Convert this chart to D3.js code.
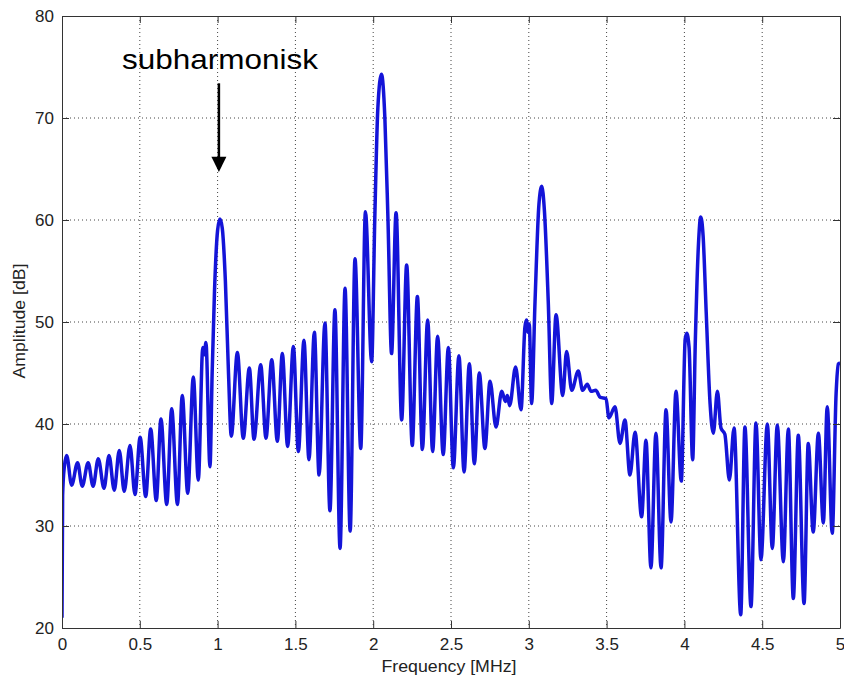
<!DOCTYPE html>
<html>
<head>
<meta charset="utf-8">
<script src="https://cdn.jsdelivr.net/npm/d3@7"></script>
<style>
  body { margin: 0; background: #fff; }
  text { font-family: Arial, "Liberation Sans", sans-serif; }
</style>
</head>
<body>
<div id="chart"></div>
<script>
// spectrum: peaks and troughs of every lobe
var freq = [
  0.000, 0.004, 0.015, 0.030, 0.062, 0.100, 0.130, 0.168, 0.200, 0.233,
  0.270, 0.302, 0.336, 0.368, 0.400, 0.437, 0.469, 0.502, 0.538, 0.570,
  0.606, 0.636, 0.673, 0.705, 0.742, 0.773, 0.808, 0.844, 0.876, 0.905,
  0.915, 0.925, 0.951, 0.965, 0.980, 1.000, 1.015, 1.030, 1.050, 1.070,
  1.088, 1.127, 1.165, 1.204, 1.234, 1.277, 1.311, 1.348, 1.384, 1.416,
  1.450, 1.487, 1.519, 1.555, 1.587, 1.622, 1.652, 1.690, 1.722, 1.754,
  1.787, 1.819, 1.852, 1.883, 1.920, 1.950, 1.990, 2.010, 2.030, 2.053,
  2.075, 2.095, 2.118, 2.147, 2.183, 2.215, 2.251, 2.284, 2.316, 2.350,
  2.382, 2.414, 2.450, 2.483, 2.515, 2.551, 2.584, 2.618, 2.650, 2.682,
  2.718, 2.751, 2.789, 2.826, 2.850, 2.862, 2.877, 2.915, 2.950, 2.975,
  2.985, 2.995, 3.003, 3.018, 3.040, 3.065, 3.083, 3.100, 3.125, 3.147,
  3.175, 3.218, 3.243, 3.276, 3.318, 3.346, 3.376, 3.400, 3.430, 3.460,
  3.496, 3.515, 3.554, 3.586, 3.618, 3.650, 3.683, 3.725, 3.753, 3.785,
  3.817, 3.850, 3.882, 3.914, 3.946, 3.980, 4.005, 4.015, 4.030, 4.053,
  4.070, 4.090, 4.105, 4.120, 4.140, 4.165, 4.186, 4.212, 4.235, 4.260,
  4.289, 4.319, 4.362, 4.389, 4.428, 4.460, 4.492, 4.533, 4.565, 4.597,
  4.636, 4.668, 4.700, 4.732, 4.769, 4.796, 4.828, 4.861, 4.893, 4.918,
  4.950, 4.975, 4.990, 5.000
];
var amp = [
  21.0, 33.0, 35.8, 36.9, 34.0, 36.2, 33.9, 36.2, 33.9, 36.6,
  33.7, 36.9, 33.5, 37.4, 33.4, 37.9, 33.1, 38.7, 32.9, 39.5,
  32.5, 40.5, 32.1, 41.5, 32.1, 42.8, 33.2, 44.6, 34.5, 47.5,
  46.8, 48.0, 35.8, 45.0, 53.0, 59.0, 60.1, 59.2, 54.0, 45.0,
  38.8, 47.0, 38.6, 45.5, 38.5, 45.8, 38.6, 46.3, 38.3, 46.9,
  37.8, 47.6, 37.3, 48.2, 36.5, 49.0, 35.0, 49.9, 31.5, 51.2,
  27.8, 53.3, 29.5, 56.2, 37.6, 60.8, 46.1, 60.0, 71.0, 74.3,
  70.0, 60.0, 46.9, 60.7, 40.4, 55.6, 37.9, 52.5, 37.5, 50.2,
  37.3, 48.6, 37.0, 47.5, 35.7, 46.7, 35.3, 45.9, 36.1, 45.0,
  37.6, 44.2, 39.7, 43.2, 42.2, 42.8, 41.8, 45.6, 41.4, 49.5,
  50.2, 49.0, 49.8, 42.0, 52.0, 61.5, 63.3, 61.0, 52.0, 42.0,
  50.7, 42.8, 47.1, 43.3, 45.2, 43.3, 43.9, 43.2, 43.3, 42.6,
  42.5, 40.6, 41.7, 38.1, 40.4, 35.0, 39.2, 30.9, 38.4, 25.9,
  39.1, 25.9, 41.4, 30.4, 43.2, 34.4, 48.3, 48.9, 47.5, 36.5,
  48.0, 57.5, 60.3, 58.5, 51.0, 42.0, 39.1, 43.2, 39.6, 39.0,
  34.5, 39.6, 21.3, 39.7, 22.1, 40.1, 26.7, 40.0, 27.8, 39.9,
  26.5, 39.5, 22.9, 38.9, 22.4, 38.1, 29.4, 39.1, 30.3, 41.7,
  29.3, 43.0, 45.9, 46.0
];

var xTicks = [0, 0.5, 1, 1.5, 2, 2.5, 3, 3.5, 4, 4.5, 5];
var yTicks = [20, 30, 40, 50, 60, 70, 80];

var W = 844, H = 681;
var pLeft = 62, pRight = 840, pTop = 16, pBottom = 628;

var svg = d3.select("#chart").append("svg")
    .attr("width", W)
    .attr("height", H);

var x = d3.scaleLinear().domain([0, 5]).range([pLeft, pRight]);
var y = d3.scaleLinear().domain([20, 80]).range([pBottom, pTop]);

// dotted grid
svg.append("g").selectAll("line")
    .data(xTicks.slice(1, -1))
    .enter().append("line")
    .attr("x1", d => x(d)).attr("x2", d => x(d))
    .attr("y1", pTop).attr("y2", pBottom)
    .attr("stroke", "#444").attr("stroke-width", 1)
    .attr("stroke-dasharray", "1,3");

svg.append("g").selectAll("line")
    .data(yTicks.slice(1, -1))
    .enter().append("line")
    .attr("x1", pLeft).attr("x2", pRight)
    .attr("y1", d => y(d)).attr("y2", d => y(d))
    .attr("stroke", "#444").attr("stroke-width", 1)
    .attr("stroke-dasharray", "1,3");

// the curve
svg.append("clipPath").attr("id", "clip")
    .append("rect")
    .attr("x", pLeft).attr("y", pTop)
    .attr("width", pRight - pLeft).attr("height", pBottom - pTop);

var line = d3.line()
    .x(d => x(d[0]))
    .y(d => y(d[1]))
    .curve(d3.curveMonotoneX);

svg.append("path")
    .datum(freq.map((f, i) => [f, amp[i]]))
    .attr("clip-path", "url(#clip)")
    .attr("fill", "none")
    .attr("stroke", "#1414d8")
    .attr("stroke-width", 3.5)
    .attr("stroke-linejoin", "round")
    .attr("d", line);

// axes, matlab style: ticks inside, box all round
var xAxis = svg.append("g")
    .attr("transform", "translate(0," + pBottom + ")")
    .call(d3.axisBottom(x).tickValues(xTicks).tickSizeInner(-7).tickSizeOuter(0)
        .tickPadding(10).tickFormat(d3.format("")));
var yAxis = svg.append("g")
    .attr("transform", "translate(" + pLeft + ",0)")
    .call(d3.axisLeft(y).tickValues(yTicks).tickSizeInner(-7).tickSizeOuter(0)
        .tickPadding(8));
var xTop = svg.append("g")
    .attr("transform", "translate(0," + pTop + ")")
    .call(d3.axisTop(x).tickValues(xTicks).tickSizeInner(-7).tickSizeOuter(0)
        .tickFormat(""));
var yRight = svg.append("g")
    .attr("transform", "translate(" + pRight + ",0)")
    .call(d3.axisRight(y).tickValues(yTicks).tickSizeInner(-7).tickSizeOuter(0)
        .tickFormat(""));

[xAxis, yAxis, xTop, yRight].forEach(function (g) {
    g.select(".domain").attr("stroke", "#333");
    g.selectAll(".tick line").attr("stroke", "#333");
    g.selectAll("text")
        .attr("fill", "#222")
        .style("font-size", "17px")
        .style("font-family", "Arial, 'Liberation Sans', sans-serif");
});

// axis labels
svg.append("text")
    .attr("x", 449).attr("y", 672)
    .attr("text-anchor", "middle")
    .attr("textLength", 135)
    .attr("lengthAdjust", "spacingAndGlyphs")
    .style("font-size", "17px")
    .attr("fill", "#222")
    .text("Frequency [MHz]");

svg.append("text")
    .attr("transform", "translate(25," + 321 + ") rotate(-90)")
    .attr("text-anchor", "middle")
    .attr("textLength", 115)
    .attr("lengthAdjust", "spacingAndGlyphs")
    .style("font-size", "17px")
    .attr("fill", "#222")
    .text("Amplitude [dB]");

// annotation for the subharmonic
svg.append("text")
    .attr("x", 220).attr("y", 69)
    .attr("text-anchor", "middle")
    .attr("textLength", 196)
    .attr("lengthAdjust", "spacingAndGlyphs")
    .style("font-size", "28px")
    .attr("fill", "#000")
    .text("subharmonisk");

var ax = x(1.0) + 1.3;
svg.append("line")
    .attr("x1", ax).attr("x2", ax)
    .attr("y1", y(73.4)).attr("y2", y(65.8))
    .attr("stroke", "#000").attr("stroke-width", 2.5);
svg.append("path")
    .attr("d", "M" + (ax - 7.5) + "," + y(66.2) +
               "L" + (ax + 7.5) + "," + y(66.2) +
               "L" + ax + "," + y(64.7) + "Z")
    .attr("fill", "#000");
</script>
</body>
</html>
